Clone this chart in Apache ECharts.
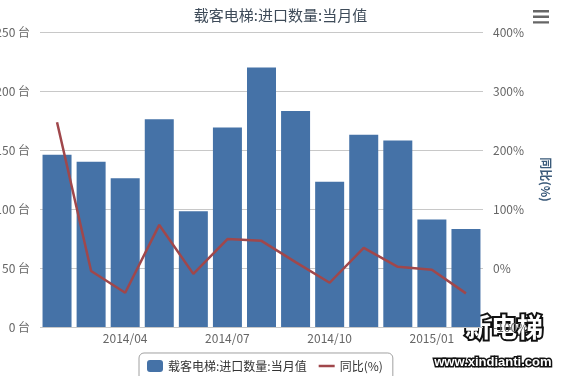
<!DOCTYPE html>
<html>
<head>
<meta charset="utf-8">
<script src="https://cdn.jsdelivr.net/npm/echarts@6/dist/echarts.min.js"></script>
<style>
  html, body { margin: 0; padding: 0; background: #fff; }
  #main { width: 561px; height: 376px; }
</style>
</head>
<body>
<div id="main"></div>
<script>
const categories = ['2014/02', '2014/03', '2014/04', '2014/05', '2014/06', '2014/07', '2014/08',
  '2014/09', '2014/10', '2014/11', '2014/12', '2015/01', '2015/02']
const importCount = [146, 140, 126, 176, 98, 169, 220, 183, 123, 163, 158, 91, 83]
const yoyPercent = [247, -5, -42, 73, -10, 49, 46, 10, -25, 34, 2, -3, -43]

const font = '"Microsoft YaHei", "Noto Sans CJK SC", sans-serif'
const chart = echarts.init(document.getElementById('main'))

chart.setOption({
  animation: false,
  textStyle: { fontFamily: font },
  title: {
    text: '载客电梯:进口数量:当月值',
    left: 'center',
    top: 3,
    textStyle: { fontSize: 15, fontWeight: 'normal', color: '#3e4b59', fontFamily: font }
  },
  toolbox: {
    right: -3,
    top: -5,
    itemSize: 16,
    feature: {
      myMenu: {
        show: true,
        title: '',
        icon: 'path://M0,0H20V3H0Z M0,7H20V10H0Z M0,14H20V17H0Z',
        onclick: function() {}
      }
    },
    iconStyle: { color: '#666', borderColor: '#666', borderWidth: 0 }
  },
  legend: {
    bottom: -10,
    left: 139,
    padding: [7, 10, 14, 8],
    itemGap: 12,
    itemWidth: 16,
    itemHeight: 12,
    borderColor: '#a0a0a0',
    borderWidth: 1,
    borderRadius: 5,
    textStyle: { fontSize: 12, color: '#333', fontFamily: font },
    data: [
      { name: '载客电梯:进口数量:当月值', icon: 'roundRect' },
      { name: '同比(%)', icon: 'path://M0,5H16V7.5H0Z' }
    ]
  },
  grid: { left: 40, right: 78, top: 32, bottom: 49, outerBoundsMode: 'none' },
  xAxis: {
    type: 'category',
    data: categories,
    axisLine: { show: false },
    axisTick: { show: false },
    axisLabel: {
      margin: 5,
      color: '#666',
      fontSize: 12,
      interval: function(index) { return index % 3 === 2 }
    }
  },
  yAxis: [{
    type: 'value',
    min: 0,
    max: 250,
    interval: 50,
    axisLine: { show: false },
    axisTick: { show: false },
    axisLabel: { formatter: '{value} 台', color: '#666', fontSize: 12, margin: 10 },
    splitLine: { lineStyle: { color: '#c8c8c8' } }
  }, {
    type: 'value',
    min: -100,
    max: 400,
    interval: 100,
    name: '同比(%)',
    nameLocation: 'middle',
    nameRotate: -90,
    nameGap: 52,
    nameTextStyle: { color: '#3a5a7a', fontWeight: 'bold', fontSize: 12 },
    axisLine: { show: false },
    axisTick: { show: false },
    axisLabel: { formatter: '{value}%', color: '#666', fontSize: 12, margin: 10 },
    splitLine: { show: false }
  }],
  series: [{
    name: '载客电梯:进口数量:当月值',
    type: 'bar',
    data: importCount,
    barWidth: 29,
    itemStyle: { color: '#4572a7' }
  }, {
    name: '同比(%)',
    type: 'line',
    yAxisIndex: 1,
    data: yoyPercent,
    symbol: 'none',
    lineStyle: { color: '#a0474b', width: 2.5 },
    itemStyle: { color: '#a0474b' }
  }],
  graphic: [{
    type: 'text',
    right: 16,
    top: 312,
    style: {
      text: '新电梯',
      fontSize: 26,
      fontWeight: 'bold',
      fill: '#fff',
      stroke: '#111',
      lineWidth: 4,
      fontFamily: font
    }
  }, {
    type: 'text',
    right: 8,
    top: 354,
    style: {
      text: 'www.xindianti.com',
      fontSize: 13,
      fontWeight: 'bold',
      fill: '#fff',
      stroke: '#111',
      lineWidth: 3,
      fontFamily: 'Arial, sans-serif'
    }
  }]
})

window.addEventListener('resize', function() {
  chart.resize()
})
</script>
</body>
</html>
